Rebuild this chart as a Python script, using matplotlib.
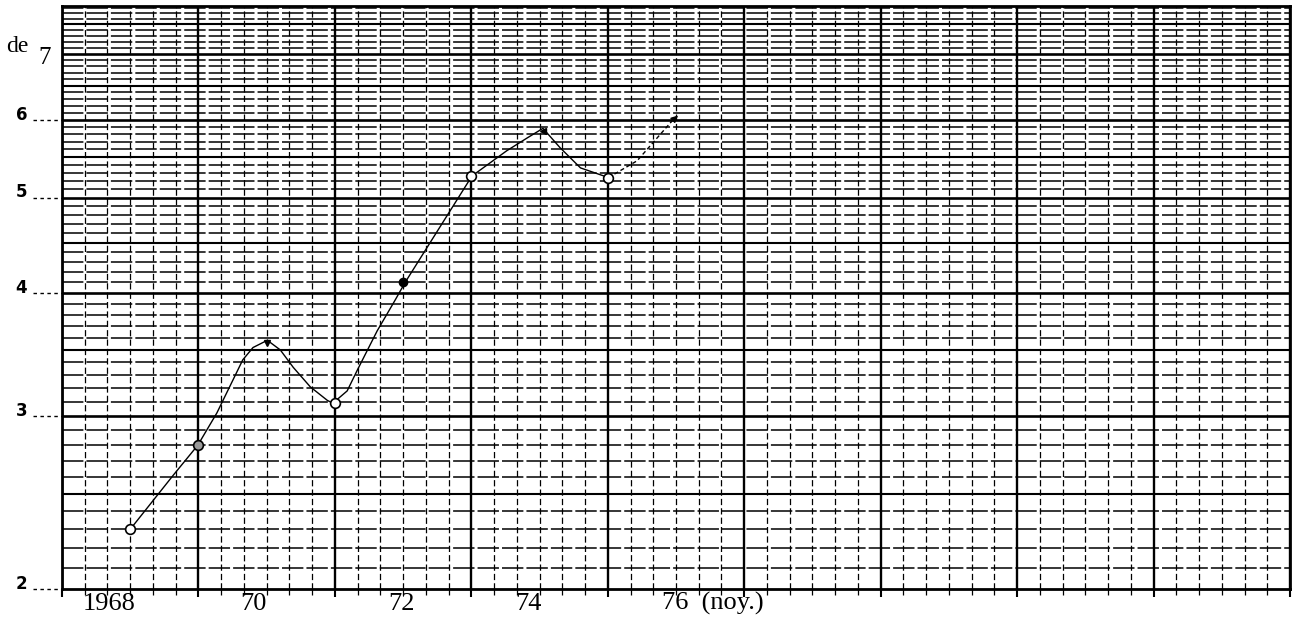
import numpy as np
import matplotlib
matplotlib.use("Agg")
import matplotlib.pyplot as plt
import matplotlib.transforms as mtransforms

# ==========================================
# 1. DATA
# ==========================================

# yearly points marked on the sheet
years = [1968, 1969, 1970, 1971, 1972, 1973, 1974, 1975, 1976]
values = [2.30, 2.80, 3.58, 3.09, 4.10, 5.26, 5.88, 5.24, 6.06]

# hand drawn curve, traced point by point (solid part, 1968 -> 1975)
curve_x = [1968.00, 1968.63, 1968.99, 1969.27, 1969.65, 1969.80, 1970.01,
           1970.20, 1970.39, 1970.64, 1970.89, 1970.97, 1971.18, 1971.33,
           1971.62, 1971.88, 1972.03, 1973.01, 1973.52, 1973.82, 1974.05,
           1974.30, 1974.60, 1975.01]
curve_y = [2.30, 2.61, 2.80, 3.02, 3.42, 3.52, 3.58,
           3.50, 3.36, 3.21, 3.11, 3.09, 3.18, 3.34,
           3.66, 3.93, 4.10, 5.26, 5.58, 5.75, 5.88,
           5.62, 5.36, 5.24]

# dashed forecast part, 1975 -> 1976 (noy.)
dash_x = [1975.01, 1975.43, 1975.93]
dash_y = [5.24, 5.45, 5.97]
arrow_tip = (1976.03, 6.06)

# marker kinds
open_years = [1968, 1971, 1973, 1975]
open_vals = [2.30, 3.09, 5.26, 5.24]
grey_years = [1969]
grey_vals = [2.80]
dot_years = [1972]
dot_vals = [4.10]

# typed labels
y_labels = ["2", "3", "4", "5", "6"]
y_label_vals = [2, 3, 4, 5, 6]
x_labels = ["1968", "70", "72", "74"]
x_label_pos = [1967.69, 1969.80, 1971.97, 1973.83]
x_last_label = "76  (noy.)"
x_last_pos = 1975.80

# ==========================================
# 2. FIGURE / GRAPH PAPER
# ==========================================

x_min, x_max = 1967, 1985
y_min, y_max = 2.0, 7.83

fig = plt.figure(figsize=(12.94, 6.35), dpi=100)
ax = fig.add_axes([62 / 1294, 1 - 589 / 635, (1290 - 62) / 1294, (589 - 6) / 635])
ax.set_yscale("log")
ax.set_xlim(x_min, x_max)
ax.set_ylim(y_min, y_max)

# horizontal rulings every 0.1, heavier at .5 and whole numbers
for v in np.arange(2.1, 7.85, 0.1):
    v = round(v, 1)
    if abs(v - round(v)) < 1e-6:
        ax.axhline(v, color="black", lw=1.9, zorder=1)
    elif abs(v * 2 - round(v * 2)) < 1e-6:
        ax.axhline(v, color="black", lw=1.5, zorder=1)
    else:
        ax.axhline(v, color="black", lw=1.1, ls=(0, (14, 2)), zorder=1)

# vertical rulings: heavy every two years, thin every third of a year
for xv in np.arange(x_min, x_max + 0.01, 1 / 3):
    k = round((xv - x_min) * 3)
    if k % 6 == 0:
        ax.axvline(xv, color="black", lw=1.7, zorder=1)
    else:
        ax.axvline(xv, color="black", lw=0.9, ls=(0, (5, 2.5)), zorder=1)

for s in ax.spines.values():
    s.set_linewidth(2.0)

ax.set_xticks(np.arange(x_min, x_max + 1, 2))
ax.set_xticks(np.arange(x_min, x_max + 0.01, 1 / 3), minor=True)
ax.tick_params(axis="x", which="major", length=6, width=1.5, labelbottom=False)
ax.tick_params(axis="x", which="minor", length=4, width=0.9)
ax.set_yticks([])
ax.set_yticks([], minor=True)
ax.yaxis.set_minor_formatter(plt.NullFormatter())

# ==========================================
# 3. THE CURVE
# ==========================================

ax.plot(curve_x, curve_y, color="black", lw=1.0, zorder=3)
ax.plot(dash_x, dash_y, color="black", lw=1.0, ls=(0, (3, 2)), zorder=3)
ax.annotate("", xy=arrow_tip, xytext=(dash_x[-1], dash_y[-1]),
            arrowprops=dict(arrowstyle="-|>", color="black", lw=1.0,
                            mutation_scale=10, shrinkA=0, shrinkB=0), zorder=4)

ax.plot(open_years, open_vals, "o", ms=7, mfc="white", mec="black", mew=1.2, zorder=5)
ax.plot(grey_years, grey_vals, "o", ms=7, mfc="#9a9a9a", mec="black", mew=1.2, zorder=5)
ax.plot(dot_years, dot_vals, "o", ms=6, mfc="black", mec="black", zorder=5)

# little peak marks drawn on the sheet
ax.plot([1970.01], [3.56], marker="v", ms=4, color="black", zorder=5)
ax.plot([1974.05], [5.84], marker="<", ms=4, color="black", zorder=5)

# ==========================================
# 4. TYPED LABELS
# ==========================================

trans = mtransforms.blended_transform_factory(ax.transAxes, ax.transData)
for lab, v in zip(y_labels, y_label_vals):
    ax.text(-0.033, v * 1.012, lab, transform=trans, ha="center", va="center",
            fontsize=12, fontweight="bold", family="DejaVu Sans")
    ax.plot([-0.024, 0], [v, v], transform=trans, color="black", lw=1.0,
            ls=(0, (2.5, 2.5)), clip_on=False)

ax.text(-0.0455, 6.95, "de", transform=trans, ha="left", va="bottom",
        fontsize=17, family="Liberation Serif")
ax.text(-0.0195, 6.75, "7", transform=trans, ha="left", va="bottom",
        fontsize=18, family="Liberation Serif")

for lab, xp in zip(x_labels, x_label_pos):
    ax.text(xp, 1.932, lab, ha="center", va="center", fontsize=19,
            family="Liberation Serif")
ax.text(x_last_pos, 1.932, x_last_label, ha="left", va="center", fontsize=19,
        family="Liberation Serif")

fig.savefig("out.png", dpi=100)
